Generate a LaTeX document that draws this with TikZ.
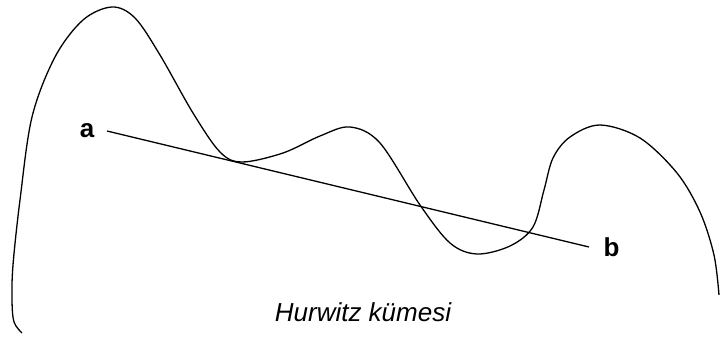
\documentclass[tikz,border=0pt]{standalone}
\usepackage{fontspec}
\setmainfont{Liberation Sans}
\usetikzlibrary{positioning}

\begin{document}
\begin{tikzpicture}[x=0.5pt, y=-0.5pt, line width=0.65pt]
\useasboundingbox (0,0) rectangle (720,342);

\draw plot[smooth, tension=0.55] coordinates {
    (22,333) (14,322) (12,300) (13,265) (20,200) (32,117) (55,57) (83,20) (112,7)
    (135,18) (160,55) (193,113) (220,152) (242,162) (283,153) (320,136)
    (350,127) (380,143) (420,205) (450,243) (477,254) (510,246) (533,227)
    (544,190) (553,158) (570,137) (600,125) (640,138) (677,173) (700,212) (714,255)
    (719,295)};

\node (a) at (107,131) [left, inner sep=6pt, font=\fontsize{13}{15}\selectfont\bfseries] {a};
\node (b) at (589,247) [right, inner sep=7pt, font=\fontsize{13}{15}\selectfont\bfseries] {b};
\draw (a.east) -- (b.west);

\node (kume) at (363,312) [font=\fontsize{13}{15}\selectfont\itshape] {Hurwitz kümesi};
\end{tikzpicture}
\end{document}
